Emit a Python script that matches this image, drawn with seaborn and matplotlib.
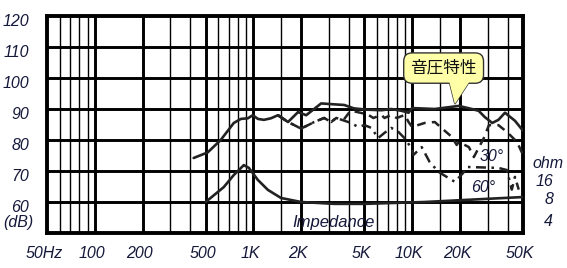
import matplotlib
matplotlib.use('Agg')
import matplotlib.pyplot as plt
import seaborn as sns
import pandas as pd
from matplotlib.transforms import ScaledTranslation
from matplotlib.patches import Polygon

# ---------------- data ----------------
freq_on = [420, 515, 622, 752, 833, 922, 991, 1067, 1164, 1288, 1428, 1652, 1910, 2150,
           2672, 3230, 3730, 4300, 5150, 6400, 7400, 8600, 9500, 10000, 13900, 19700,
           23800, 26300, 28700, 32000, 35000, 38500, 44500, 50000]
db_on = [74.2, 76, 80, 85.5, 86.8, 87, 88, 86.8, 86.5, 87, 88, 85.8, 89, 88,
         91.8, 91.5, 91.3, 90.2, 89.8, 89.6, 90, 89.4, 88.8, 90.3, 90, 91,
         90, 89.4, 87.4, 85.5, 86.5, 88.8, 86.2, 83]

freq_30 = [1428, 1652, 1996, 2212, 2414, 2790, 3090, 3325, 3700, 4100, 4800, 5300, 5700,
           6400, 6700, 7400, 8000, 9000, 9500, 10000, 12000, 13900, 15300, 17800, 19100,
           19700, 22800, 24500, 28300, 30500, 35000, 39600, 45800, 50000]
db_30 = [88, 85.8, 83.7, 84.8, 85.8, 87.1, 85.8, 87.1, 86.5, 89.5, 88.7, 88.1, 87.1,
         88.1, 87.1, 88.1, 87.1, 88.1, 85.8, 84.2, 85.5, 85.8, 83.9, 81, 78.4,
         79.4, 77.7, 74.5, 80.6, 84.8, 84.8, 82.6, 79.4, 75.2]

freq_60 = [1428, 1652, 1996, 2212, 2414, 2790, 3090, 3325, 3960, 4600, 5000, 5550, 6100,
           6700, 7400, 8200, 8960, 9900, 10200, 11500, 12900, 14700, 15800, 17800, 18600,
           21000, 22100, 35000, 39600, 42500, 44500, 47000]
db_60 = [88, 85.8, 83.7, 84.8, 85.8, 87.1, 85.8, 87.1, 85.8, 84.2, 84.8, 83.9, 80.6,
         82.3, 83.9, 82.6, 80.6, 77.4, 75.2, 77.7, 72.9, 69.7, 68.7, 67.1, 66.5,
         69.4, 71.3, 71, 70.3, 64, 68.1, 64]

freq_imp = [500, 650, 752, 870, 936, 1067, 1234, 1492, 1996, 3230, 5000, 12000, 50000]
db_imp = [60, 64.8, 68.7, 71.9, 71, 67.1, 63.9, 61.3, 60, 59.4, 59.4, 60, 61.6]

x_major = [50, 100, 200, 500, 1000, 2000, 5000, 10000, 20000, 50000]
x_labels = ['50Hz', '100', '200', '500', '1K', '2K', '5K', '10K', '20K', '50K']
x_minor = [60, 70, 80, 90, 300, 400, 600, 700, 800, 900, 1500, 3000, 4000,
           6000, 7000, 8000, 9000, 15000, 30000, 40000]
y_ticks = [50, 60, 70, 80, 90, 100, 110, 120]
y_labels = ['', '60', '70', '80', '90', '100', '110', '120']
ohm_labels = ['ohm', '16', '8', '4']

# callout anchor (text centre, pointer tip, pointer base)
callout_text = '音圧特性'
callout_center = (15800, 103.2)
callout_tip = (18600, 91.6)
callout_base = [(17000, 99.6), (23500, 99.6)]

# ---------------- style ----------------
sns.set_style('white')
plt.rcParams['font.family'] = ['Liberation Sans', 'DejaVu Sans']

W, H = 567, 268
fig = plt.figure(figsize=(W / 100, H / 100), dpi=100)
ax = fig.add_axes([47 / W, 1 - 233 / H, (523 - 47) / W, (233 - 16) / H])
ax.set_xscale('log')
ax.set_xlim(50, 50000)
ax.set_ylim(50, 120)

text_col = '#15193a'
line_col = '#222222'
yellow = '#ffffa8'
edge = '#333333'

# grid
for xv in x_major[1:-1]:
    ax.axvline(xv, color='black', lw=2.1, zorder=1)
for xv in x_minor:
    ax.axvline(xv, color='black', lw=1.0, zorder=1)
for yv in y_ticks[1:-1]:
    ax.axhline(yv, color='black', lw=2.1, zorder=1)
for s in ax.spines.values():
    s.set_linewidth(2.8)
    s.set_color('black')

# curves
df_on = pd.DataFrame({'f': freq_on, 'db': db_on})
df_30 = pd.DataFrame({'f': freq_30, 'db': db_30})
df_60 = pd.DataFrame({'f': freq_60, 'db': db_60})
df_imp = pd.DataFrame({'f': freq_imp, 'db': db_imp})

sns.lineplot(data=df_60, x='f', y='db', ax=ax, color=line_col, lw=1.8,
             linestyle=(0, (4, 2.2, 1, 2.2)), sort=False, zorder=3)
sns.lineplot(data=df_30, x='f', y='db', ax=ax, color=line_col, lw=1.8,
             linestyle=(0, (3.5, 2.5)), sort=False, zorder=3)
sns.lineplot(data=df_on, x='f', y='db', ax=ax, color=line_col, lw=1.9,
             sort=False, zorder=4)
sns.lineplot(data=df_imp, x='f', y='db', ax=ax, color=line_col, lw=1.9,
             sort=False, zorder=4)

# ticks
ax.set_xticks(x_major)
ax.set_xticklabels(x_labels)
ax.set_xticks([], minor=True)
ax.set_yticks(y_ticks)
ax.set_yticklabels(y_labels)
ax.tick_params(length=0)
ax.tick_params(axis='x', pad=9)
ax.tick_params(axis='y', pad=13)
ax.set_xlabel('')
ax.set_ylabel('')
for lab in ax.get_xticklabels():
    lab.set_fontstyle('italic')
    lab.set_fontsize(11.5)
    lab.set_color(text_col)
    lab.set_transform(lab.get_transform() + ScaledTranslation(-3 / 100, 0, fig.dpi_scale_trans))
for lab in ax.get_yticklabels():
    lab.set_fontstyle('italic')
    lab.set_fontsize(11.5)
    lab.set_color(text_col)
    lab.set_transform(lab.get_transform() + ScaledTranslation(0, -4 / 100, fig.dpi_scale_trans))

ax.text(-0.028, 53.3, '(dB)', transform=ax.get_yaxis_transform(), ha='right', va='center',
        fontsize=11.5, style='italic', color=text_col)

# right-side ohm labels
ohm_y = [164, 181, 200, 221]
for lab, yp in zip(ohm_labels, ohm_y):
    if lab == 'ohm':
        fig.text(548 / W, 1 - yp / H, lab, ha='center', va='center', fontsize=11.5,
                 style='italic', color=text_col)
    else:
        fig.text(553 / W, 1 - yp / H, lab, ha='right', va='center', fontsize=11.5,
                 style='italic', color=text_col)

ax.text(3200, 53.5, 'Impedance', ha='center', va='center', fontsize=12,
        style='italic', color=text_col, zorder=5)
ax.text(31800, 74.8, '30°', ha='center', va='center', fontsize=11.5,
        style='italic', color=text_col, zorder=5)
ax.text(27900, 64.8, '60°', ha='center', va='center', fontsize=11.5,
        style='italic', color=text_col, zorder=5)

# callout: pointer with edge, box, then edge-less pointer fill over the box edge
tri = [callout_base[0], callout_tip, callout_base[1]]
ax.add_patch(Polygon(tri, closed=True, fc=yellow, ec=edge, lw=1.0, zorder=6))
ax.text(*callout_center, callout_text, ha='center', va='center', fontsize=12,
        family=['Noto Sans CJK JP', 'DejaVu Sans'], color='#111111', zorder=7,
        bbox=dict(boxstyle='round,pad=0.4,rounding_size=0.5', fc=yellow, ec=edge, lw=1.0))
ax.add_patch(Polygon(tri, closed=True, fc=yellow, ec='none', lw=0, zorder=8))

fig.savefig('out.png', dpi=100)
